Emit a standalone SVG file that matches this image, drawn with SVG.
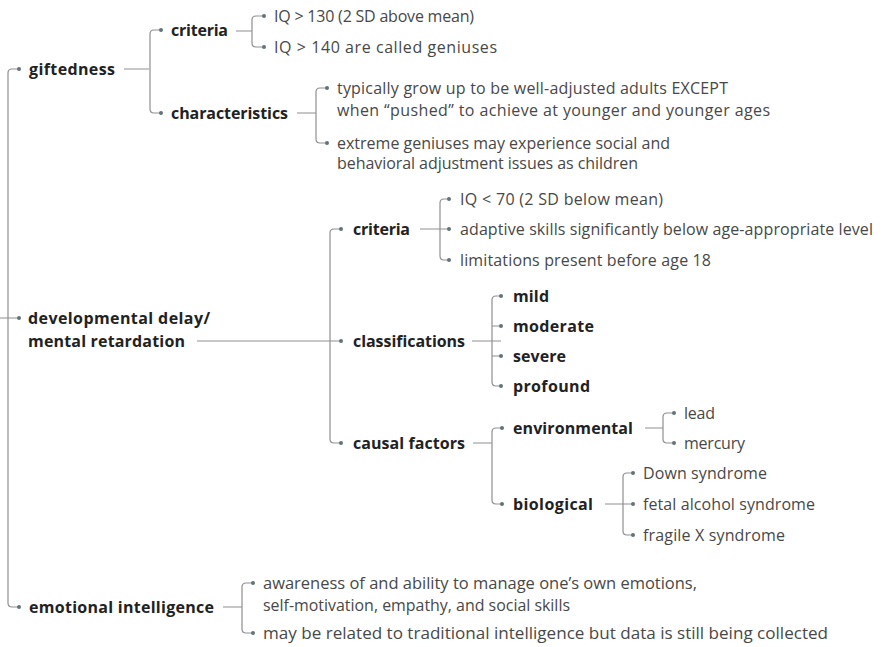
<svg xmlns="http://www.w3.org/2000/svg" width="883" height="647" viewBox="0 0 883 647">
<style>
text{font-family:"Open Sans","Noto Sans",sans-serif;fill:#484848;font-size:16px}
.b{font-weight:bold;fill:#222}
.ln{fill:none;stroke:#8f8f8f;stroke-width:1.2}
.d{fill:#627379}
</style>
<rect width="883" height="647" fill="#fff"/>
<g id="connectors">
<path class="ln" d="M19,69 H12 Q8,69 8,73 V603 Q8,607 12,607 H19 M0,318 H19"/>
<path class="ln" d="M124,69 H149 M161,30 H154 Q150,30 150,34 V109 Q150,113 154,113 H161"/>
<path class="ln" d="M236,31 H252 M264,16 H256 Q252,16 252,20 V43 Q252,47 256,47 H264"/>
<path class="ln" d="M297,113 H316 M327,88 H320 Q316,88 316,92 V139 Q316,143 320,143 H327"/>
<path class="ln" d="M197,341 H330 M341,229 H334 Q330,229 330,233 V439 Q330,443 334,443 H341 M330,341 H341"/>
<path class="ln" d="M420,229 H449 M449,199 H444 Q440,199 440,203 V256 Q440,260 444,260 H449"/>
<path class="ln" d="M472,341 H501 M501,296 H496 Q492,296 492,300 V382 Q492,386 496,386 H501 M492,326 H501 M492,356 H501"/>
<path class="ln" d="M473,443 H492 M502,428 H496 Q492,428 492,432 V500 Q492,504 496,504 H502"/>
<path class="ln" d="M645,428 H663 M674,413 H667 Q663,413 663,417 V439 Q663,443 667,443 H674"/>
<path class="ln" d="M605,504 H633 M633,473 H627 Q623,473 623,477 V531 Q623,535 627,535 H633"/>
<path class="ln" d="M223,607 H242 M253,583 H246 Q242,583 242,587 V629 Q242,633 246,633 H253"/>
<g class="d">
<circle cx="19" cy="69" r="2"/><circle cx="19" cy="318" r="2"/><circle cx="19" cy="607" r="2"/>
<circle cx="161" cy="30" r="2"/><circle cx="161" cy="113" r="2"/>
<circle cx="264" cy="16" r="2"/><circle cx="264" cy="47" r="2"/>
<circle cx="327" cy="88" r="2"/><circle cx="327" cy="143" r="2"/>
<circle cx="341" cy="229" r="2"/><circle cx="341" cy="341" r="2"/><circle cx="341" cy="443" r="2"/>
<circle cx="449" cy="199" r="2"/><circle cx="449" cy="229" r="2"/><circle cx="449" cy="260" r="2"/>
<circle cx="501" cy="296" r="2"/><circle cx="501" cy="326" r="2"/><circle cx="501" cy="356" r="2"/><circle cx="501" cy="386" r="2"/>
<circle cx="502" cy="428" r="2"/><circle cx="502" cy="504" r="2"/>
<circle cx="674" cy="413" r="2"/><circle cx="674" cy="443" r="2"/>
<circle cx="633" cy="473" r="2"/><circle cx="633" cy="504" r="2"/><circle cx="633" cy="535" r="2"/>
<circle cx="253" cy="583" r="2"/><circle cx="253" cy="633" r="2"/>
</g>
</g>
<g id="giftedness"><text class="b" x="29" y="75" textLength="86">giftedness</text></g>
<g id="g-criteria"><text class="b" x="171" y="36" textLength="57">criteria</text></g>
<g id="g-crit-1"><text x="274" y="22" textLength="200">IQ &gt; 130 (2 SD above mean)</text></g>
<g id="g-crit-2"><text x="274" y="53" textLength="223">IQ &gt; 140 are called geniuses</text></g>
<g id="g-characteristics"><text class="b" x="171" y="119" textLength="117">characteristics</text></g>
<g id="g-char-1"><text x="337" y="94" textLength="391">typically grow up to be well-adjusted adults EXCEPT</text><text x="337" y="116" textLength="433">when “pushed” to achieve at younger and younger ages</text></g>
<g id="g-char-2"><text x="337" y="149" textLength="333">extreme geniuses may experience social and</text><text x="337" y="169" textLength="301">behavioral adjustment issues as children</text></g>
<g id="devdelay"><text class="b" x="28" y="324" textLength="182">developmental delay/</text><text class="b" x="28" y="347" textLength="157">mental retardation</text></g>
<g id="d-criteria"><text class="b" x="353" y="235" textLength="57">criteria</text></g>
<g id="d-crit-1"><text x="460" y="205" textLength="203">IQ &lt; 70 (2 SD below mean)</text></g>
<g id="d-crit-2"><text x="460" y="235" textLength="413">adaptive skills significantly below age-appropriate level</text></g>
<g id="d-crit-3"><text x="460" y="266" textLength="251">limitations present before age 18</text></g>
<g id="classifications"><text class="b" x="353" y="347" textLength="112">classifications</text></g>
<g id="mild"><text class="b" x="513" y="302" textLength="36">mild</text></g>
<g id="moderate"><text class="b" x="513" y="332" textLength="81">moderate</text></g>
<g id="severe"><text class="b" x="513" y="362" textLength="53">severe</text></g>
<g id="profound"><text class="b" x="513" y="392" textLength="77">profound</text></g>
<g id="causal"><text class="b" x="353" y="449" textLength="112">causal factors</text></g>
<g id="environmental"><text class="b" x="513" y="434" textLength="120">environmental</text></g>
<g id="lead"><text x="684" y="419" textLength="31">lead</text></g>
<g id="mercury"><text x="684" y="449" textLength="61">mercury</text></g>
<g id="biological"><text class="b" x="513" y="510" textLength="80">biological</text></g>
<g id="down"><text x="643" y="479" textLength="124">Down syndrome</text></g>
<g id="fetal"><text x="643" y="510" textLength="172">fetal alcohol syndrome</text></g>
<g id="fragile"><text x="643" y="541" textLength="142">fragile X syndrome</text></g>
<g id="emotional"><text class="b" x="29" y="613" textLength="185">emotional intelligence</text></g>
<g id="e-1"><text x="263" y="589" textLength="434" lengthAdjust="spacingAndGlyphs">awareness of and ability to manage one’s own emotions,</text><text x="263" y="611" textLength="307" lengthAdjust="spacingAndGlyphs">self-motivation, empathy, and social skills</text></g>
<g id="e-2"><text x="263" y="639" textLength="565" lengthAdjust="spacingAndGlyphs">may be related to traditional intelligence but data is still being collected</text></g>
</svg>
